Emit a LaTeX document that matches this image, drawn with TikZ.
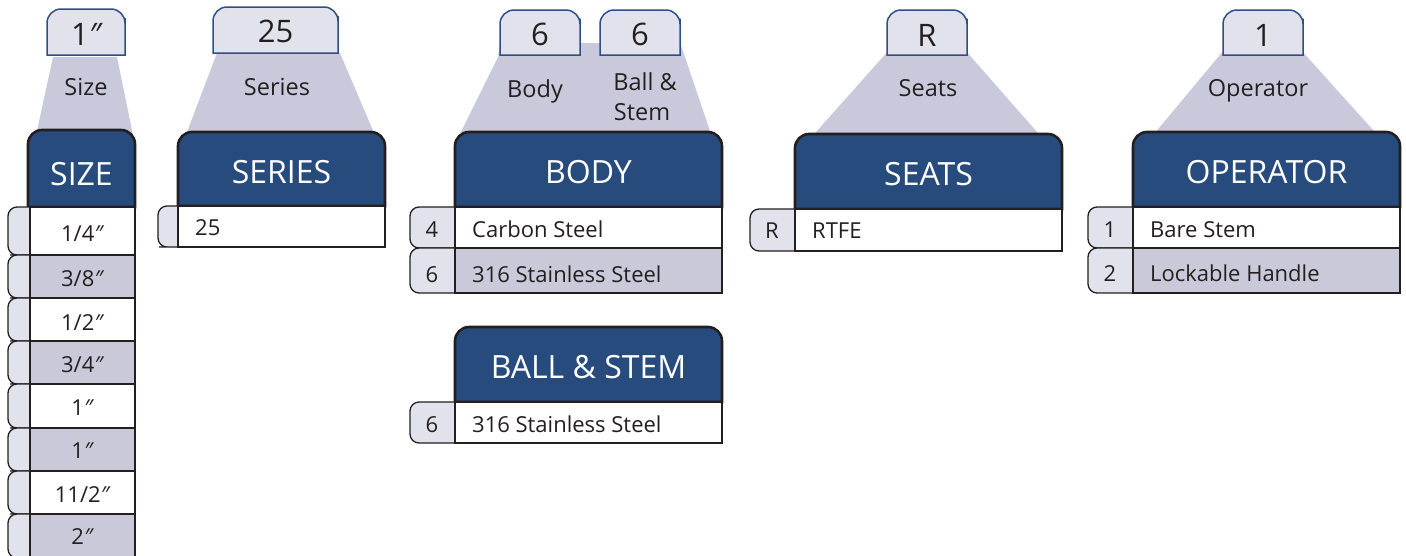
\documentclass[tikz,border=0pt]{standalone}
\usepackage{fontspec}
\setmainfont{Open Sans}
\definecolor{hblue}{HTML}{274B7D}
\definecolor{trap}{HTML}{C9C9DB}
\definecolor{rowg}{HTML}{C9C9D9}
\definecolor{tabg}{HTML}{E1E2EC}
\definecolor{tabline}{HTML}{2E4F86}
\definecolor{ink}{HTML}{231F20}
\newcommand\inch{{\itshape ″}}
\tikzset{
  toptab/.style={fill=tabg,draw=tabline,line width=1.5pt},
  trapz/.style={fill=trap},
  hdrbox/.style={fill=hblue,draw=ink,line width=2.6pt},
  rowbox/.style={draw=ink,line width=2pt},
  sidetab/.style={fill=tabg,draw=ink,line width=1.3pt},
  toptxt/.style={font=\fontsize{31}{31}\selectfont,text=ink,inner sep=0,anchor=base},
  lbltxt/.style={font=\fontsize{23.5}{24}\selectfont,text=ink,inner sep=0,anchor=base},
  hdrtxt/.style={font=\fontsize{32}{32}\selectfont,text=white,inner sep=0,anchor=base},
  rowtxt/.style={font=\fontsize{22}{22}\selectfont,text=ink,inner sep=0,anchor=base west},
  crowtxt/.style={font=\fontsize{22}{22}\selectfont,text=ink,inner sep=0,anchor=base},
}
% name, x1, x2, y1, y2, baseline, text
\newcommand\TopTab[7]{%
  \draw[toptab] (#2,{(#4+#5)/2}) [rounded corners=14pt] -- (#2,#4) -- (#3,#4) -- (#3,{(#4+#5)/2}) [sharp corners] -- (#3,#5) -- (#2,#5) -- cycle;
  \node[toptxt] (#1) at ({(#2+#3)/2},#6) {#7};}
\newcommand\Hdr[7]{%
  \draw[hdrbox] (#2,{(#4+#5)/2}) [rounded corners=14pt] -- (#2,#4) -- (#3,#4) -- (#3,{(#4+#5)/2}) [sharp corners] -- (#3,#5) -- (#2,#5) -- cycle;
  \node[hdrtxt] (#1) at ({(#2+#3)/2},#6) {#7};}
% x0, x1, y1, y2
\newcommand\SideTab[4]{%
  \draw[sidetab] ({(#1+#2)/2},#3) [rounded corners=9pt] -- (#1,#3) -- (#1,#4) -- ({(#1+#2)/2},#4) [sharp corners] -- (#2,#4) -- (#2,#3) -- cycle;}
\begin{document}
\begin{tikzpicture}[x=1pt,y=-1pt]
\useasboundingbox (0,0) rectangle (1406,555);
% ---------- trapezoids
\fill[trapz] (53,57) -- (117,57) -- (134,140) -- (35,140) -- cycle;
\fill[trapz] (217,53) -- (340,53) -- (377,140) -- (184,140) -- cycle;
\fill[trapz] (498,57) -- (500,43) -- (680,43) -- (685,57) -- (713,140) -- (457,140) -- cycle;
\fill[trapz] (889,50) -- (965,50) -- (1044,140) -- (809,140) -- cycle;
\fill[trapz] (1224,50) -- (1301,50) -- (1382,140) -- (1149,140) -- cycle;
% ---------- top tabs
\TopTab{tsize}{47}{125}{9}{55}{45}{1\inch}
\TopTab{tseries}{213}{338}{7}{53}{42}{25}
\TopTab{tbody}{500}{580}{10}{55}{45}{6}
\TopTab{tball}{600}{680}{10}{55}{45}{6}
\TopTab{tseats}{887}{967}{10}{55}{46}{R}
\TopTab{toper}{1223}{1303}{10}{55}{46}{1}
% ---------- labels
\node[lbltxt] (lsize) at (86,95) {Size};
\node[lbltxt] (lseries) at (277,95) {Series};
\node[lbltxt] (lbody) at (535,97) {Body};
\node[lbltxt] (lball) at (645,90) {Ball \&};
\node[lbltxt] (lstem) at (642,120) {Stem};
\node[lbltxt] (lseats) at (928,96) {Seats};
\node[lbltxt] (loper) at (1258,96) {Operator};
% ---------- headers
\Hdr{hsize}{28}{135}{130}{207}{185}{SIZE}
\Hdr{hseries}{178}{385}{132}{206}{183}{SERIES}
\Hdr{hbody}{455}{722}{132}{207}{183}{BODY}
\Hdr{hball}{455}{722}{327}{402}{378}{BALL \& STEM}
\Hdr{hseats}{795}{1062}{134}{209}{185}{SEATS}
\Hdr{hoper}{1133}{1400}{132}{207}{183}{OPERATOR}
% ---------- size rows
\foreach \ya/\yb/\bl/\fc/\t [count=\i] in {207/255/241/white/{1/4\inch}, 255/298/286/rowg/{3/8\inch}, 298/341/330/white/{1/2\inch}, 341/384/372/rowg/{3/4\inch}, 384/428/415/white/{1\inch}, 428/471/458/rowg/{1\inch}, 471/514/502/white/{11/2\inch}, 514/558/544/rowg/{2\inch}}{
  \SideTab{8}{30}{\ya}{\yb}
  \draw[rowbox,fill=\fc] (30,\ya) rectangle (135,\yb);
  \node[crowtxt] (s\i) at (82,\bl) {\t};
}
% ---------- series row
\SideTab{158}{178}{206}{247}
\draw[rowbox,fill=white] (178,206) rectangle (385,247);
\node[rowtxt] (r25) at (195,235) {25};
% ---------- body rows
\SideTab{410}{455}{207}{248}
\SideTab{410}{455}{248}{293}
\draw[rowbox,fill=white] (455,207) rectangle (722,248);
\draw[rowbox,fill=rowg] (455,248) rectangle (722,293);
\node[crowtxt] (b4) at (432,237) {4};
\node[rowtxt] (bcs) at (472,237) {Carbon Steel};
\node[crowtxt] (b6) at (432,282) {6};
\node[rowtxt] (bss) at (472,282) {316 Stainless Steel};
% ---------- ball & stem row
\SideTab{410}{455}{402}{443}
\draw[rowbox,fill=white] (455,402) rectangle (722,443);
\node[crowtxt] (k6) at (432,432) {6};
\node[rowtxt] (kss) at (472,432) {316 Stainless Steel};
% ---------- seats row
\SideTab{750}{795}{209}{251}
\draw[rowbox,fill=white] (795,209) rectangle (1062,251);
\node[crowtxt] (eR) at (772,238) {R};
\node[rowtxt] (ert) at (812,238) {RTFE};
% ---------- operator rows
\SideTab{1088}{1133}{207}{248}
\SideTab{1088}{1133}{248}{293}
\draw[rowbox,fill=white] (1133,207) rectangle (1400,248);
\draw[rowbox,fill=rowg] (1133,248) rectangle (1400,293);
\node[crowtxt] (o1) at (1110,237) {1};
\node[rowtxt] (obs) at (1150,237) {Bare Stem};
\node[crowtxt] (o2) at (1110,281) {2};
\node[rowtxt] (olh) at (1150,281) {Lockable Handle};
\end{tikzpicture}
\end{document}
